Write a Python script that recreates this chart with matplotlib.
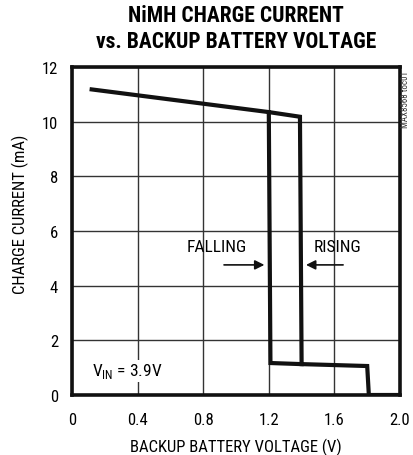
#!/usr/bin/env python3
import matplotlib
matplotlib.use("Agg")
import matplotlib.pyplot as plt

plt.rcParams['font.family'] = ['Roboto Condensed', 'DejaVu Sans']
plt.rcParams['mathtext.fontset'] = 'custom'
plt.rcParams['mathtext.rm'] = 'Roboto Condensed'

# main curve (upper branch + rising edge + lower branch)
main_v = [0.12, 1.20, 1.39, 1.40, 1.80, 1.81, 2.0]
main_i = [11.18, 10.35, 10.18, 1.13, 1.06, 0.0, 0.0]
# falling edge
fall_v = [1.20, 1.21, 1.40]
fall_i = [10.35, 1.17, 1.13]

x_ticks = [0, 0.4, 0.8, 1.2, 1.6, 2.0]
x_labels = ["0", "0.4", "0.8", "1.2", "1.6", "2.0"]
y_ticks = [0, 2, 4, 6, 8, 10, 12]

fig = plt.figure(figsize=(4.14, 4.56), dpi=100)
ax = fig.add_axes([72/414, 60/456, 328/414, 328/456])

ax.plot(main_v, main_i, color='#111111', lw=3.0, solid_joinstyle='miter', zorder=3)
ax.plot(fall_v, fall_i, color='#111111', lw=3.0, solid_joinstyle='miter', zorder=3)

ax.set_xlim(0, 2.0)
ax.set_ylim(0, 12)
ax.set_xticks(x_ticks)
ax.set_xticklabels(x_labels)
ax.set_yticks(y_ticks)
ax.tick_params(length=0, labelsize=12)
ax.tick_params(axis='x', pad=12)
ax.tick_params(axis='y', pad=10)
ax.grid(True, color='#333333', lw=1.0)
ax.set_axisbelow(True)
for s in ax.spines.values():
    s.set_linewidth(2.6)
    s.set_color('#111111')

# axis titles placed explicitly
fig.text(236/414, 1 - 447/456, "BACKUP BATTERY VOLTAGE (V)", ha='center', va='center', fontsize=12)
fig.text(20/414, 1 - 214/456, "CHARGE CURRENT (mA)", rotation=90, ha='center', va='center', fontsize=12)

fig.text(236/414, 1 - 5/456, "NiMH CHARGE CURRENT\nvs. BACKUP BATTERY VOLTAGE",
         ha='center', va='top', fontsize=15.5, fontweight='bold', linespacing=1.25)

# annotations
ax.text(0.88, 5.45, "FALLING", ha='center', va='center', fontsize=12.5)
ax.text(1.62, 5.45, "RISING", ha='center', va='center', fontsize=12.5)
ax.annotate("", xy=(1.19, 4.76), xytext=(0.91, 4.76),
            arrowprops=dict(arrowstyle='-|>', color='#111111', lw=1.2, mutation_scale=14))
ax.annotate("", xy=(1.41, 4.76), xytext=(1.67, 4.76),
            arrowprops=dict(arrowstyle='-|>', color='#111111', lw=1.2, mutation_scale=14))
ax.text(0.12, 0.88, r"V$_{\mathregular{IN}}$ = 3.9V", ha='left', va='center', fontsize=12.5,
        bbox=dict(facecolor='white', edgecolor='none', pad=1))

fig.text(406/414, 1 - 100/456, "MAX8568 toc01", rotation=90, ha='center', va='center',
         fontsize=6.5, color='#333333')

fig.savefig("out.png", dpi=100)
